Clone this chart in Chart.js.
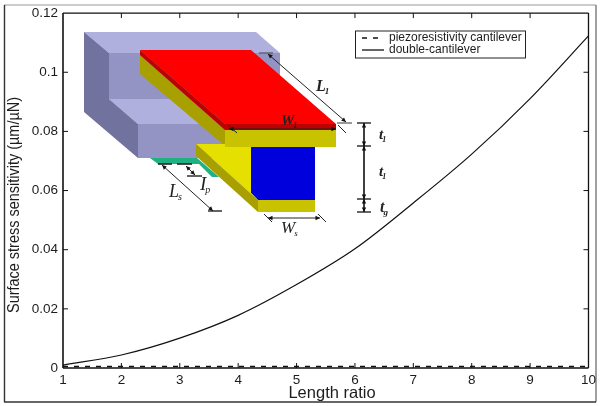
<!DOCTYPE html>
<html>
<head>
<meta charset="utf-8">
<style>
  html, body { margin: 0; padding: 0; background: #fff; }
  canvas { display: block; filter: blur(0.35px); }
</style>
<script src="https://cdn.jsdelivr.net/npm/chart.js@4"></script>
</head>
<body>
<canvas id="grafico" width="600" height="406"></canvas>
<script>
// valores
const lengthRatio = [1, 2, 3, 4, 5, 6, 7, 8, 9, 10];
const doubleCantilever = [0.001, 0.0044, 0.0101, 0.0178, 0.0282, 0.0403, 0.0558, 0.0723, 0.0911, 0.1123];
const piezoCantilever = [0.0005, 0.0005, 0.0005, 0.0005, 0.0005, 0.0005, 0.0005, 0.0005, 0.0005, 0.0005];
const xTicks = ['1', '2', '3', '4', '5', '6', '7', '8', '9', '10'];
const yTickValues = [0, 0.02, 0.04, 0.06, 0.08, 0.1, 0.12];
const yTickLabels = ['0', '0.02', '0.04', '0.06', '0.08', '0.1', '0.12'];
const xTitle = 'Length ratio';
const yTitle = 'Surface stress sensitivity (\u00b5m/\u00b5N)';

const TEXT = '#1c1c1c';
const SANS = '"Liberation Sans", Arial, sans-serif';

function poly(ctx, color, pts) {
    ctx.fillStyle = color;
    ctx.beginPath();
    pts.forEach((p, i) => i ? ctx.lineTo(p[0], p[1]) : ctx.moveTo(p[0], p[1]));
    ctx.closePath();
    ctx.fill();
}

function seg(ctx, x1, y1, x2, y2, w) {
    ctx.lineWidth = w || 1;
    ctx.beginPath();
    ctx.moveTo(x1, y1);
    ctx.lineTo(x2, y2);
    ctx.stroke();
}

function arrowHead(ctx, x, y, ang) {
    const s = 5;
    ctx.fillStyle = '#111';
    ctx.beginPath();
    ctx.moveTo(x, y);
    ctx.lineTo(x - s * Math.cos(ang - 0.45), y - s * Math.sin(ang - 0.45));
    ctx.lineTo(x - s * Math.cos(ang + 0.45), y - s * Math.sin(ang + 0.45));
    ctx.closePath();
    ctx.fill();
}

function dimLine(ctx, x1, y1, x2, y2, w) {
    const a = Math.atan2(y2 - y1, x2 - x1);
    ctx.strokeStyle = '#222';
    seg(ctx, x1, y1, x2, y2, w);
    arrowHead(ctx, x2, y2, a);
    arrowHead(ctx, x1, y1, a + Math.PI);
}

function symbol(ctx, letter, sub, x, y, size, bold) {
    const style = 'italic ' + (bold ? 'bold ' : '');
    ctx.fillStyle = '#222';
    ctx.textAlign = 'left';
    ctx.textBaseline = 'alphabetic';
    ctx.font = style + size + 'px "Liberation Serif", serif';
    ctx.fillText(letter, x, y);
    const w = ctx.measureText(letter).width;
    ctx.font = style + Math.round(size * 0.55) + 'px "Liberation Serif", serif';
    ctx.fillText(sub, x + w - 1, y + 3);
}

// desenho do dispositivo dentro do grafico
function drawDevice(ctx) {
    // base
    poly(ctx, '#b0b0de', [[84, 32], [256, 32], [280, 53], [109, 53]]);
    poly(ctx, '#9494c4', [[109, 53], [280, 53], [280, 80], [225, 124], [138, 124], [109, 99]]);
    poly(ctx, '#72729e', [[84, 32], [109, 53], [109, 99], [138, 124], [138, 158], [84, 112]]);
    poly(ctx, '#b0b0de', [[109, 99], [192, 99], [225, 124], [138, 124]]);
    poly(ctx, '#9494c4', [[138, 124], [225, 124], [225, 158], [138, 158]]);

    // piezoresistor
    poly(ctx, '#1fb184', [[150, 158], [197, 158], [219, 177], [212, 177], [199, 164], [158, 164]]);

    // cantilever de cima
    poly(ctx, '#a8a000', [[140, 55], [225, 130], [225, 146], [140, 74]]);
    poly(ctx, '#ff0000', [[140, 50], [251, 50], [336, 124], [225, 124]]);
    poly(ctx, '#bd0000', [[140, 50], [225, 124], [225, 130], [140, 55]]);
    poly(ctx, '#bd0000', [[225, 124], [336, 124], [336, 130], [225, 130]]);
    poly(ctx, '#c9c200', [[225, 130], [336, 130], [336, 147], [225, 147]]);

    // cantilever de baixo
    poly(ctx, '#0000dc', [[251, 147], [315, 147], [315, 200], [258, 200], [251, 193]]);
    poly(ctx, '#e6e000', [[196, 144], [225, 144], [225, 147], [251, 147], [251, 193], [258, 200]]);
    poly(ctx, '#a8a000', [[196, 144], [258, 200], [258, 212], [196, 156]]);
    poly(ctx, '#c9c200', [[258, 200], [315, 200], [315, 212], [258, 212]]);

    // cotas
    ctx.lineCap = 'butt';
    dimLine(ctx, 268, 54, 346, 122, 1);
    ctx.strokeStyle = '#555';
    seg(ctx, 259, 53, 273, 53, 1.2);
    seg(ctx, 337, 123, 352, 123, 1.2);

    dimLine(ctx, 229, 129, 336, 129, 1);
    ctx.strokeStyle = '#222';
    seg(ctx, 228, 125, 237, 133, 1);
    seg(ctx, 338, 125, 346, 133, 1);

    dimLine(ctx, 162, 165, 213, 211, 1);
    ctx.strokeStyle = '#222';
    seg(ctx, 158, 164, 172, 164, 1.6);
    seg(ctx, 208, 211, 222, 211, 1.4);

    dimLine(ctx, 186, 166, 195, 175, 1);
    ctx.strokeStyle = '#222';
    seg(ctx, 177, 164, 192, 164, 1.6);
    seg(ctx, 187, 176, 202, 176, 1.4);

    dimLine(ctx, 268, 218, 320, 218, 1.2);
    ctx.strokeStyle = '#222';
    seg(ctx, 264, 214, 272, 222, 1);
    seg(ctx, 318, 214, 326, 222, 1);

    ctx.strokeStyle = '#111';
    seg(ctx, 364, 123, 364, 212, 1.6);
    [123, 146, 199, 212].forEach(y => seg(ctx, 357, y, 371, y, 1.3));
    ctx.fillStyle = '#111';
    [[123, 1], [146, -1], [146, 1], [199, -1], [199, 1], [212, -1]].forEach(a => {
        arrowHead(ctx, 364, a[0], a[1] > 0 ? -Math.PI / 2 : Math.PI / 2);
    });

    symbol(ctx, 'L', '1', 316, 91, 16, true);
    symbol(ctx, 'W', '1', 281, 125, 15, true);
    symbol(ctx, 'L', 's', 169, 197, 18);
    symbol(ctx, 'I', 'p', 200, 190, 19);
    symbol(ctx, 'W', 's', 281, 233, 17);
    symbol(ctx, 't', '1', 379, 139, 15, true);
    symbol(ctx, 't', '1', 379, 176, 15, true);
    symbol(ctx, 't', 'g', 380, 212, 16, true);
}

const moldura = {
    id: 'moldura',
    beforeDraw(chart) {
        const ctx = chart.ctx;
        ctx.save();
        ctx.fillStyle = '#fff';
        ctx.fillRect(0, 0, chart.width, chart.height);
        ctx.strokeStyle = '#999';
        seg(ctx, 4, 5, 596, 5, 1.2);
        ctx.strokeStyle = '#777';
        seg(ctx, 596, 5, 596, 402, 1.4);
        ctx.strokeStyle = '#333';
        seg(ctx, 4.5, 5, 4.5, 402, 1.4);
        seg(ctx, 4, 402, 596, 402, 1.4);
        ctx.restore();
    },
    beforeDatasetsDraw(chart) {
        const ctx = chart.ctx;
        ctx.save();
        drawDevice(ctx);
        ctx.restore();
    },
    afterDatasetsDraw(chart) {
        const ctx = chart.ctx;
        const area = chart.chartArea;
        const xs = chart.scales.x;
        const ys = chart.scales.y;
        ctx.save();

        // eixos com ticks para dentro
        ctx.strokeStyle = '#111';
        seg(ctx, area.left, area.top, area.left, area.bottom, 1.6);
        seg(ctx, area.left, area.bottom, area.right, area.bottom, 1.6);
        seg(ctx, area.left, area.top, area.right, area.top, 1.3);
        seg(ctx, area.right, area.top, area.right, area.bottom, 1.3);
        lengthRatio.slice(1, -1).forEach(v => {
            const x = xs.getPixelForValue(v);
            seg(ctx, x, area.bottom, x, area.bottom - 5, 1);
            seg(ctx, x, area.top, x, area.top + 5, 1);
        });
        yTickValues.slice(1, -1).forEach(v => {
            const y = ys.getPixelForValue(v);
            seg(ctx, area.left, y, area.left + 5, y, 1);
            seg(ctx, area.right, y, area.right - 5, y, 1);
        });

        // titulos dos eixos
        ctx.fillStyle = TEXT;
        ctx.font = '16.5px ' + SANS;
        ctx.textAlign = 'center';
        ctx.textBaseline = 'middle';
        ctx.fillText(xTitle, 332, 393);
        ctx.save();
        ctx.translate(14, 205);
        ctx.rotate(-Math.PI / 2);
        ctx.font = '17px ' + SANS;
        ctx.fillText(yTitle, 0, 0, 216);
        ctx.restore();

        // legenda
        ctx.fillStyle = '#fff';
        ctx.fillRect(355, 31, 170, 27);
        ctx.strokeStyle = '#222';
        ctx.lineWidth = 1;
        ctx.strokeRect(355.5, 31, 170, 27);
        chart.data.datasets.forEach((ds, i) => {
            const y = 38 + i * 12;
            ctx.strokeStyle = '#111';
            ctx.setLineDash(ds.borderDash || []);
            seg(ctx, 362, y, 384, y, 1.3);
            ctx.setLineDash([]);
            ctx.fillStyle = TEXT;
            ctx.font = '12px ' + SANS;
            ctx.textAlign = 'left';
            ctx.textBaseline = 'middle';
            ctx.fillText(ds.label, 389, y);
        });
        ctx.restore();
    }
};

const grafico = new Chart(document.getElementById('grafico').getContext('2d'), {
    type: 'line',
    data: {
        labels: lengthRatio,
        datasets: [{
            label: 'piezoresistivity cantilever',
            data: piezoCantilever,
            borderColor: '#111',
            borderWidth: 1.4,
            borderDash: [5, 6],
            pointRadius: 0,
            fill: false
        }, {
            label: 'double-cantilever',
            data: doubleCantilever,
            borderColor: '#111',
            borderWidth: 1.2,
            cubicInterpolationMode: 'monotone',
            pointRadius: 0,
            fill: false
        }]
    },
    options: {
        responsive: false,
        animation: false,
        layout: { padding: { top: 11, right: 9, left: 0, bottom: 0 } },
        plugins: {
            legend: { display: false },
            tooltip: { enabled: false }
        },
        scales: {
            x: {
                type: 'linear',
                min: 1,
                max: 10,
                afterFit: scale => { scale.height = 38; },
                grid: { display: false, drawTicks: false },
                border: { display: false },
                ticks: {
                    stepSize: 1,
                    padding: 4,
                    color: TEXT,
                    maxRotation: 0,
                    font: { family: SANS, size: 13.5 },
                    callback: value => xTicks[value - 1]
                }
            },
            y: {
                min: 0,
                max: 0.12,
                afterFit: scale => { scale.width = 63; },
                grid: { display: false, drawTicks: false },
                border: { display: false },
                ticks: {
                    stepSize: 0.02,
                    padding: 5,
                    color: TEXT,
                    font: { family: SANS, size: 13.5 },
                    callback: value => yTickLabels[Math.round(value / 0.02)]
                }
            }
        }
    },
    plugins: [moldura]
});
</script>
</body>
</html>
